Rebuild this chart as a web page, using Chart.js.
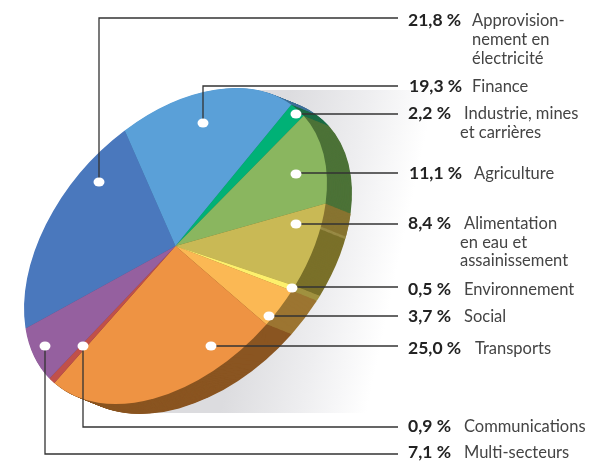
<!DOCTYPE html>
<html>
<head>
<meta charset="utf-8">
<script src="https://cdn.jsdelivr.net/npm/chart.js@4"></script>
<style>
  html, body { margin: 0; padding: 0; background: #fff; }
  canvas { display: block; }
</style>
</head>
<body>
<canvas id="myChart" width="608" height="461"></canvas>
<script>
// Data, clockwise from the start of the big blue slice
const categories = [
    ['Approvision-', 'nement en', 'électricité'],
    ['Finance'],
    ['Industrie, mines', 'et carrières'],
    ['Agriculture'],
    ['Alimentation', 'en eau et', 'assainissement'],
    ['Environnement'],
    ['Social'],
    ['Transports'],
    ['Communications'],
    ['Multi-secteurs']
];
const values = [21.8, 19.3, 2.2, 11.1, 8.4, 0.5, 3.7, 25.0, 0.9, 7.1];

const topColors = ['#4a78bd', '#5aa0d8', '#00b176', '#8ab65f', '#c9b955', '#fdf06c', '#fbb854', '#ee9343', '#c0504a', '#95609f'];
const sideColors = ['#3a5c90', '#3f7099', '#1a6b45', '#4c7237', '#7a7029', '#a0913f', '#9c7531', '#8a5521', '#7a3a30', '#664270'];

// Tilted ellipse of the pie top and its extrusion
const pie = { cx: 175.5, cy: 246, a: 183, b: 120, angle: -48, dx: 25, dy: 10, steps: 36 };

// Callouts: dot in the slice, y of the horizontal leader, text columns and baselines
const callouts = [
    { dot: [99, 182],  lineY: 18,  valueX: 408, textX: [472, 472, 472], base: [26, 45, 64] },
    { dot: [203, 123], lineY: 86,  valueX: 409, textX: [472], base: [92] },
    { dot: [296, 114], lineY: 114, valueX: 408, textX: [464, 460], base: [119, 138] },
    { dot: [296, 174], lineY: 173, valueX: 409, textX: [474], base: [179] },
    { dot: [296, 224], lineY: 224, valueX: 408, textX: [464, 460, 460], base: [229, 248, 266] },
    { dot: [292, 288], lineY: 287, valueX: 408, textX: [464], base: [295] },
    { dot: [269, 316], lineY: 316, valueX: 408, textX: [464], base: [322] },
    { dot: [211, 346], lineY: 346, valueX: 408, textX: [475], base: [354] },
    { dot: [83, 346],  lineY: 427, valueX: 408, textX: [464], base: [432] },
    { dot: [45, 346],  lineY: 454, valueX: 408, textX: [464], base: [458] }
];
const leaderEnd = 398;

function tilt(ctx, el) {
    ctx.translate(pie.cx, pie.cy);
    ctx.rotate(pie.angle * Math.PI / 180);
    ctx.scale(pie.a / el.outerRadius, pie.b / el.outerRadius);
    ctx.translate(-el.x, -el.y);
}

function wedge(ctx, arc, from, to, color) {
    ctx.fillStyle = color;
    ctx.beginPath();
    ctx.moveTo(arc.x, arc.y);
    ctx.arc(arc.x, arc.y, arc.outerRadius, from, to);
    ctx.closePath();
    ctx.fill();
}

const tiltedPie = {
    id: 'tiltedPie',
    beforeDraw(chart) {
        // grey shadow behind the pie, fades earlier towards the bottom
        const ctx = chart.ctx;
        const g = ctx.createLinearGradient(270, 180, 410, 210);
        g.addColorStop(0, '#dcdcdf');
        g.addColorStop(0.55, '#eeeef0');
        g.addColorStop(1, '#ffffff');
        ctx.save();
        ctx.fillStyle = g;
        ctx.beginPath();
        ctx.moveTo(260, 90);
        ctx.lineTo(440, 90);
        ctx.lineTo(440, 413);
        ctx.lineTo(150, 413);
        ctx.lineTo(150, 390);
        ctx.closePath();
        ctx.fill();
        ctx.restore();
    },
    beforeDatasetsDraw(chart) {
        const ctx = chart.ctx;
        const arcs = chart.getDatasetMeta(0).data;
        // side wall: same slices pushed down-right, deepest first
        for (let s = pie.steps; s > 0; s--) {
            ctx.save();
            ctx.translate(pie.dx * s / pie.steps, pie.dy * s / pie.steps);
            tilt(ctx, arcs[0]);
            arcs.forEach((arc, i) => {
                wedge(ctx, arc, arc.startAngle, arc.endAngle, sideColors[i]);
            });
            // lighter band at the top of the Alimentation wall
            const alim = arcs[4];
            const span = alim.endAngle - alim.startAngle;
            wedge(ctx, alim, alim.startAngle, alim.startAngle + span * 0.28, '#8c7634');
            wedge(ctx, alim, alim.startAngle + span * 0.28, alim.startAngle + span * 0.31, '#a0914c');
            ctx.restore();
        }
        ctx.save();
        tilt(ctx, arcs[0]);
    },
    afterDatasetsDraw(chart) {
        const ctx = chart.ctx;
        ctx.restore();

        ctx.strokeStyle = '#333333';
        ctx.lineWidth = 1.3;
        callouts.forEach((c) => {
            ctx.beginPath();
            ctx.moveTo(c.dot[0], c.dot[1]);
            ctx.lineTo(c.dot[0], c.lineY);
            ctx.lineTo(leaderEnd, c.lineY);
            ctx.stroke();
        });
        ctx.fillStyle = '#ffffff';
        callouts.forEach((c) => {
            ctx.beginPath();
            ctx.ellipse(c.dot[0], c.dot[1], 5.5, 4.5, 0, 0, Math.PI * 2);
            ctx.fill();
        });

        ctx.textBaseline = 'alphabetic';
        callouts.forEach((c, i) => {
            ctx.font = 'bold 17.5px Lato';
            ctx.fillStyle = '#222222';
            ctx.fillText(values[i].toFixed(1).replace('.', ',') + ' %', c.valueX, c.base[0]);
            ctx.font = '16.5px Lato';
            ctx.fillStyle = '#444444';
            categories[i].forEach((line, n) => {
                ctx.fillText(line, c.textX[n], c.base[n]);
            });
        });
    }
};

const config = {
    type: 'pie',
    data: {
        labels: categories.map((c) => c.join(' ')),
        datasets: [{
            data: values,
            backgroundColor: topColors,
            borderWidth: 0,
            clip: false
        }]
    },
    options: {
        responsive: false,
        animation: false,
        rotation: -62,
        events: [],
        plugins: {
            legend: { display: false },
            tooltip: { enabled: false }
        }
    },
    plugins: [tiltedPie]
};

var myChart = new Chart(document.getElementById('myChart'), config);
</script>
</body>
</html>
